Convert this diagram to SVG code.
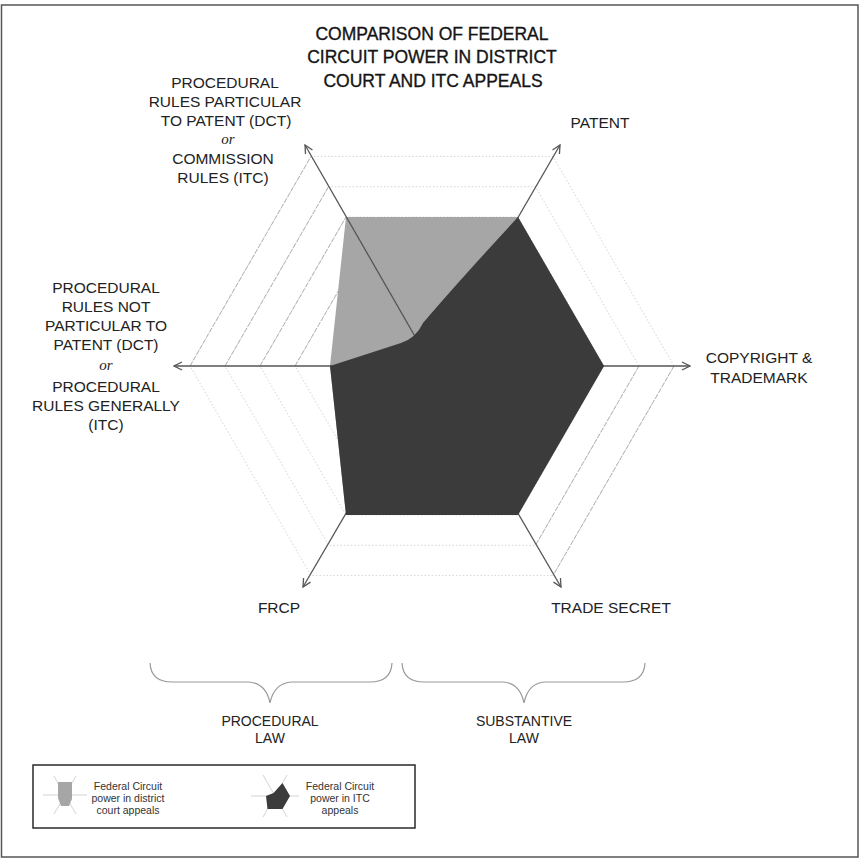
<svg xmlns="http://www.w3.org/2000/svg" width="862" height="860" viewBox="0 0 862 860">
<defs>
<marker id="arr" viewBox="0 0 10 10" refX="9" refY="5" markerWidth="10" markerHeight="10" markerUnits="userSpaceOnUse" orient="auto">
<path d="M1,1 L9,5 L1,9" fill="none" stroke="#555" stroke-width="1.3"/>
</marker>
<style>
.t{font-family:"Liberation Sans",Arial,sans-serif;fill:#222;text-anchor:middle}
.title{font-size:17.5px;fill:#151515;stroke:#151515;stroke-width:0.35}
.lab{font-size:15.5px}
.it{font-size:15px;font-style:italic;font-family:"Liberation Serif",serif}
.bl{font-size:14px}
.lg{font-size:10.5px;fill:#333}
.ring{fill:none;stroke:#d4d4d4;stroke-width:1;stroke-dasharray:1.5 2}
.hatch{fill:none;stroke:#b0b0b0;stroke-width:1;stroke-dasharray:5 1.5}
.axis{stroke:#555;stroke-width:1.3;fill:none}
.brace{fill:none;stroke:#999;stroke-width:1.2}
.light{fill:#a6a6a6}
.dark{fill:#3b3b3b}
.sp{stroke:#c8c8c8;stroke-width:0.8;fill:none}
</style>
</defs>
<rect x="1.5" y="5" width="856.5" height="852" fill="#fff" stroke="#555" stroke-width="1.5"/>

<g id="title">
<text class="t title" x="432" y="40">COMPARISON OF FEDERAL</text>
<text class="t title" x="432" y="63">CIRCUIT POWER IN DISTRICT</text>
<text class="t title" x="433" y="87">COURT AND ITC APPEALS</text>
</g>

<g id="grid">
<polygon class="ring" points="674,366 553,156.4 311,156.4 190,366 311,575.6 553,575.6"/>
<polygon class="ring" points="639,366 535.5,186.7 328.5,186.7 225,366 328.5,545.3 535.5,545.3"/>
<polygon class="ring" points="604,366 518,217 346,217 260,366 346,515 518,515"/>
<polygon class="ring" points="569,366 500.5,247.4 363.5,247.4 295,366 363.5,484.6 500.5,484.6"/>
<polygon class="ring" points="534,366 483,277.7 381,277.7 330,366 381,454.3 483,454.3"/>
<polygon class="ring" points="499,366 465.5,308 398.5,308 365,366 398.5,424 465.5,424"/>
<line class="hatch" x1="190" y1="366" x2="311" y2="156.4"/>
<line class="hatch" x1="225" y1="366" x2="328.5" y2="186.7"/>
<line class="hatch" x1="260" y1="366" x2="346" y2="217"/>
<line class="hatch" x1="295" y1="366" x2="363.5" y2="247.4"/>
<line class="hatch" x1="674" y1="366" x2="553" y2="575.6"/>
<line class="hatch" x1="639" y1="366" x2="535.5" y2="545.3"/>
</g>

<g id="district-court-area">
<polygon class="light" points="346,217 518,217 604,366 518,515 346,515 330,366"/>
</g>

<g id="connectors">
<line class="axis" x1="432" y1="366" x2="690" y2="366" marker-end="url(#arr)"/>
<line class="axis" x1="432" y1="366" x2="560" y2="145" marker-end="url(#arr)"/>
<line class="axis" x1="432" y1="366" x2="305" y2="145" marker-end="url(#arr)"/>
<line class="axis" x1="432" y1="366" x2="174" y2="366" marker-end="url(#arr)"/>
<line class="axis" x1="432" y1="366" x2="303" y2="587" marker-end="url(#arr)"/>
<line class="axis" x1="432" y1="366" x2="561" y2="587" marker-end="url(#arr)"/>
</g>

<g id="itc-area">
<path class="dark" d="M330,366 L401,343 Q416,338 423,323 Q458,282 518,217 L604,366 L518,515 L346,515 Z"/>
</g>

<g id="label-patent"><text class="t lab" x="600" y="128">PATENT</text></g>
<g id="label-copyright">
<text class="t lab" x="759" y="363">COPYRIGHT &amp;</text>
<text class="t lab" x="759" y="383">TRADEMARK</text>
</g>
<g id="label-trade-secret"><text class="t lab" x="611" y="613">TRADE SECRET</text></g>
<g id="label-frcp"><text class="t lab" x="279" y="613">FRCP</text></g>
<g id="label-procedural-general">
<text class="t lab" x="106" y="293">PROCEDURAL</text>
<text class="t lab" x="106" y="312">RULES NOT</text>
<text class="t lab" x="106" y="331">PARTICULAR TO</text>
<text class="t lab" x="106" y="350">PATENT (DCT)</text>
<text class="t it" x="106" y="370">or</text>
<text class="t lab" x="106" y="392">PROCEDURAL</text>
<text class="t lab" x="106" y="411">RULES GENERALLY</text>
<text class="t lab" x="106" y="430">(ITC)</text>
</g>
<g id="label-procedural-particular">
<text class="t lab" x="225" y="88">PROCEDURAL</text>
<text class="t lab" x="225" y="107">RULES PARTICULAR</text>
<text class="t lab" x="226" y="126">TO PATENT (DCT)</text>
<text class="t it" x="228" y="144">or</text>
<text class="t lab" x="223" y="164">COMMISSION</text>
<text class="t lab" x="223" y="183">RULES (ITC)</text>
</g>

<g id="procedural-law">
<path class="brace" d="M150,663 Q151,682 172,682 L248,682 Q266,683 270,703 Q274,683 292,682 L370,682 Q391,682 392,663"/>
<text class="t bl" x="270" y="726">PROCEDURAL</text>
<text class="t bl" x="270" y="743">LAW</text>
</g>
<g id="substantive-law">
<path class="brace" d="M402,663 Q403,682 424,682 L503,682 Q520,683 524,703 Q528,683 545,682 L623,682 Q644,682 645,663"/>
<text class="t bl" x="524" y="726">SUBSTANTIVE</text>
<text class="t bl" x="524" y="743">LAW</text>
</g>

<g id="legend">
<rect x="33" y="765" width="382" height="63" fill="none" stroke="#2a2a2a" stroke-width="1.5"/>
<g id="legend-district">
<path class="sp" d="M65,795 L87,795 M65,795 L76,776 M65,795 L54,776 M65,795 L43,795 M65,795 L54,814 M65,795 L76,814"/>
<polygon class="light" points="58,782 72,782 72,799 69,806 61,806 58,798"/>
<text class="t lg" x="128" y="790">Federal Circuit</text>
<text class="t lg" x="128" y="802">power in district</text>
<text class="t lg" x="128" y="814">court appeals</text>
</g>
<g id="legend-itc">
<path class="sp" d="M275,796 L299,796 M275,796 L287,775 M275,796 L263,775 M275,796 L251,796 M275,796 L263,817 M275,796 L287,817"/>
<polygon class="dark" points="266,796 273.5,793 282.5,783 290,796 282.5,809 267.5,809"/>
<text class="t lg" x="340" y="790">Federal Circuit</text>
<text class="t lg" x="340" y="802">power in ITC</text>
<text class="t lg" x="340" y="814">appeals</text>
</g>
</g>
</svg>
